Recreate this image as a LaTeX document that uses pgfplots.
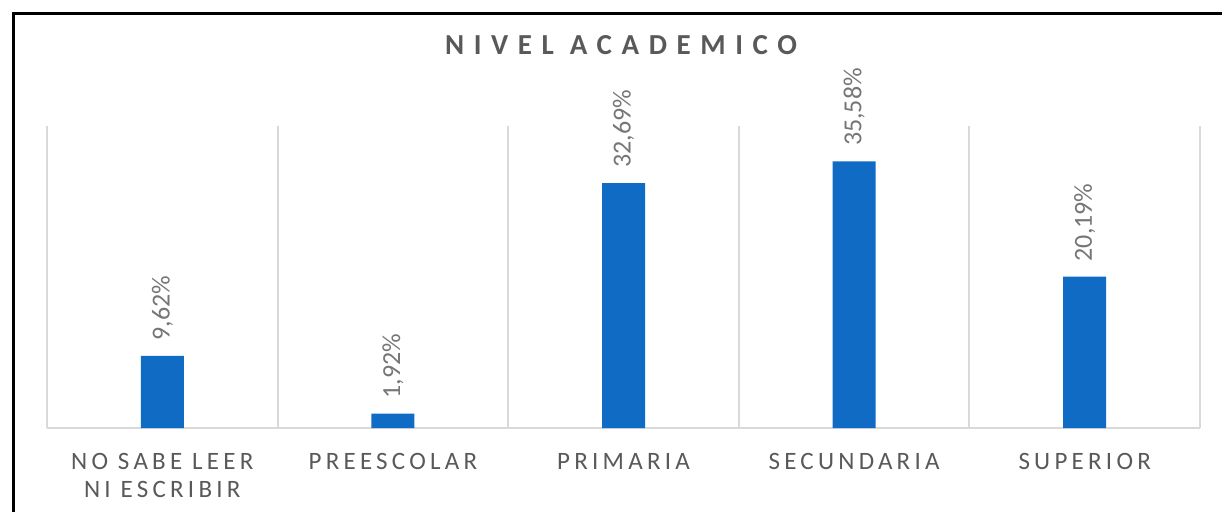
\documentclass[border=0pt]{standalone}
\usepackage{pgfplots}
\pgfplotsset{compat=1.18}
\usepackage{fontspec}
\setmainfont{Carlito}
\newfontfamily\catfont[LetterSpace=17]{Carlito}
\newfontfamily\titlefont[LetterSpace=33]{Carlito}
\definecolor{barblue}{RGB}{16,107,196}
\definecolor{gridgray}{RGB}{217,217,217}
\definecolor{txtgray}{RGB}{89,89,89}
\definecolor{lblgray}{RGB}{118,118,118}

\begin{document}
\begin{tikzpicture}[x=1pt,y=1pt]
% 1px of the reference = 0.5pt
\useasboundingbox (0,0) rectangle (611,255.5);
\draw[line width=1.5pt] (6.5,-1) -- (6.5,249) -- (612,249);
\node[color=txtgray, font=\titlefont\bfseries\fontsize{14.5}{17}\selectfont] at (310.5,233) {NIVEL ACADEMICO};

\begin{axis}[
    at={(23.5pt,41.5pt)}, anchor=south west,
    scale only axis,
    width=576.5pt, height=151pt,
    xmin=-0.5, xmax=4.5,
    ymin=0, ymax=40.3,
    axis x line*=bottom,
    axis y line=none,
    x axis line style={gridgray, line width=1pt},
    ytick=\empty,
    xtick={0,1,2,3,4},
    xticklabels={{NO SABE LEER\\NI ESCRIBIR},PREESCOLAR,PRIMARIA,SECUNDARIA,SUPERIOR},
    major tick length=0pt,
    minor xtick={-0.5,0.5,1.5,2.5,3.5,4.5},
    minor tick length=0pt,
    xminorgrids,
    minor grid style={gridgray, line width=1pt},
    xticklabel style={font=\catfont\fontsize{12.5}{14}\selectfont, color=txtgray,
        align=center, anchor=north, yshift=-9pt},
    ybar,
    bar width=21.5pt,
    nodes near coords={\pgfmathprintnumber[assume math mode=true, fixed, fixed zerofill, precision=2, use comma]{\pgfplotspointmeta}\%},
    every node near coord/.append style={rotate=90, anchor=west, inner xsep=7.5pt,
        font=\fontsize{13}{15}\selectfont, color=lblgray},
]
\addplot[fill=barblue, draw=none] coordinates {
    (0,9.62) (1,1.92) (2,32.69) (3,35.58) (4,20.19)
};
\end{axis}
\end{tikzpicture}
\end{document}
